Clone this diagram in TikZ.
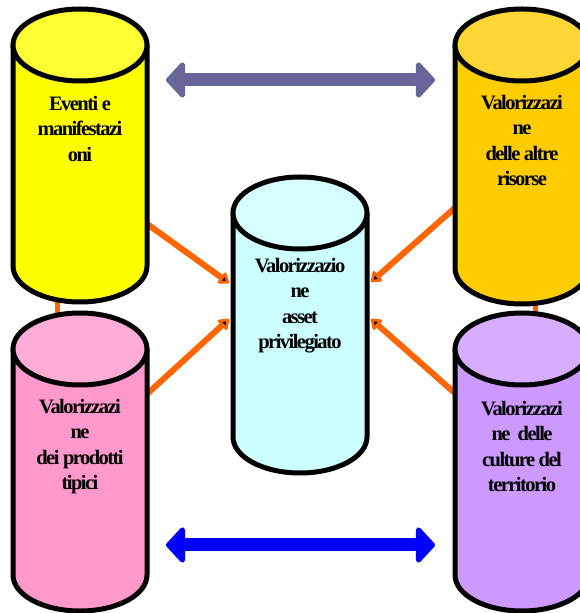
\documentclass[tikz,border=0pt]{standalone}
\usepackage{fontspec}
\setmainfont{Liberation Serif}
\newfontfamily\drumfont[LetterSpace=-7.5]{Liberation Serif}
\usepackage{tikz}
\usetikzlibrary{arrows.meta}
\usetikzlibrary{positioning}
\definecolor{evbody}{HTML}{FFFF00}
\definecolor{evtop}{HTML}{FFFF33}
\definecolor{arbody}{HTML}{FFCC00}
\definecolor{artop}{HTML}{FFD633}
\definecolor{ptbody}{HTML}{FF99CC}
\definecolor{pttop}{HTML}{FFADD6}
\definecolor{ctbody}{HTML}{CC99FF}
\definecolor{cttop}{HTML}{D6ADFF}
\definecolor{apbody}{HTML}{CCFFFF}
\definecolor{aptop}{HTML}{D6FFFF}
\definecolor{feedorange}{HTML}{FF6600}
\definecolor{toplink}{HTML}{666699}
\definecolor{bottomlink}{HTML}{0000FF}
\tikzset{drumline/.style={draw=black, line width=5pt, line join=round}}
\tikzset{drumtext/.style={align=center, inner sep=0pt, text=black,
  font=\drumfont\bfseries\fontsize{20.5}{25.5}\selectfont}}
\tikzset{feed/.style={draw=feedorange, line width=6pt,
  -{Triangle[length=11pt, width=15pt, round, fill=black]}}}
\tikzset{link/.style={line width=13pt,
  {Triangle[length=20pt, width=42pt, round]}-{Triangle[length=20pt, width=42pt, round]}}}
% cylinder: centre x, top y, bottom y, body colour, top colour
\newcommand{\drum}[5]{%
  \filldraw[drumline, fill=#4] (#1-67,#2) -- (#1-67,#3)
    arc[start angle=180, end angle=360, x radius=67, y radius=36] -- (#1+67,#2) -- cycle;
  \filldraw[drumline, fill=#5] (#1,#2) ellipse[x radius=67, y radius=36];
}
\begin{document}
\begin{tikzpicture}[x=1pt, y=1pt]
    \clip (0,0) rectangle (580,613);
    %% ends of the connectors
    \coordinate (evfeed) at (100,423);
    \coordinate (arfeed) at (500,445);
    \coordinate (ptfeed) at (100,176);
    \coordinate (ctfeed) at (500,180);
    \coordinate (apinA) at (229,330);
    \coordinate (apinB) at (371,331);
    \coordinate (apinC) at (229,294);
    \coordinate (apinD) at (371,294);
    \coordinate (evdown) at (57,400);
    \coordinate (ptup) at (57,300);
    \coordinate (ardown) at (535,400);
    \coordinate (ctup) at (535,300);
    \coordinate (evlink) at (166,533);
    \coordinate (arlink) at (435,533);
    \coordinate (ptlink) at (166,68);
    \coordinate (ctlink) at (435,68);
    %% central cylinder
    \drum{300}{400}{176}{apbody}{aptop}
    %% Flows
    \draw [feedorange, line width=5pt] (evdown) -- (ptup);
    \draw [feedorange, line width=5pt] (ardown) -- (ctup);
    \draw [feed] (evfeed) -- (apinA);
    \draw [feed] (arfeed) -- (apinB);
    \draw [feed] (ptfeed) -- (apinC);
    \draw [feed] (ctfeed) -- (apinD);
    %% outer cylinders
    \drum{80}{568}{347}{evbody}{evtop}
    \drum{522}{568}{345}{arbody}{artop}
    \drum{80}{264}{38}{ptbody}{pttop}
    \drum{522}{264}{38}{ctbody}{cttop}
    \draw [link, toplink] (evlink) -- (arlink);
    \draw [link, bottomlink] (ptlink) -- (ctlink);
    %% texts
    \node [drumtext] (ev) at (80,484.5) {Eventi e\\manifestazi\\oni};
    \node [drumtext] (ar) at (522,472.5) {Valorizzazi\\ne\\delle altre\\risorse};
    \node [drumtext] (ap) at (300,307.5) {Valorizzazio\\ne\\asset\\privilegiato};
    \node [drumtext] (pt) at (80,166.5) {Valorizzazi\\ne\\dei prodotti\\tipici};
    \node [drumtext] (ct) at (522,166.5) {Valorizzazi\\ne~ delle\\culture del\\territorio};
  \end{tikzpicture}
\end{document}
